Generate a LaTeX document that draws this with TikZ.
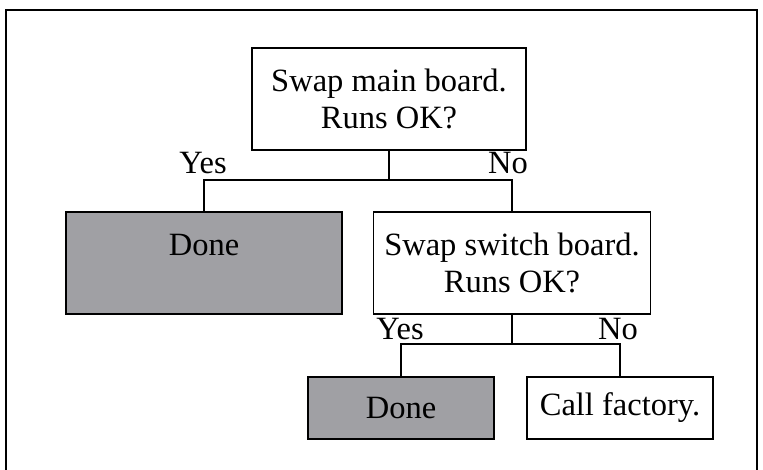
\documentclass[tikz,border=0pt]{standalone}
\usepackage{fontspec}
\setmainfont{Liberation Serif}
\usepackage{tikz}

\begin{document}
\begin{tikzpicture}[x=1pt,y=-1pt,
    box/.style={draw,line width=1.4pt,inner sep=0pt,align=center,
      font=\fontsize{32.5}{37}\selectfont},
    grey/.style={fill={rgb,255:red,160;green,160;blue,164}},
    lbl/.style={font=\fontsize{32.5}{37}\selectfont,inner sep=0pt},
    line/.style={line width=1.4pt}]
    \useasboundingbox (0,0) rectangle (763,470);
    \draw[line width=2.8pt] (6,480)--(6,10)--(757,10)--(757,480);
    \node[box,minimum width=274,minimum height=102] (q1) at (389,99){Swap main board.\\Runs OK?};
    \node[box,grey,minimum width=276,minimum height=102] (d1) at (204,263){Done\\\mbox{}};
    \node[box,minimum width=277,minimum height=102] (q2) at (512,263){Swap switch board.\\Runs OK?};
    \node[box,grey,minimum width=186,minimum height=62] (d2) at (401,408){Done};
    \node[box,minimum width=186,minimum height=62] (cf) at (620,408){Call factory.};
    \coordinate (j1) at (389,180);
    \coordinate (j2) at (512,344);
    \draw[line] (q1.south)--(j1) -| (d1.north);
    \draw[line] (j1) -| (q2.north);
    \draw[line] (q2.south)--(j2) -| (d2.north);
    \draw[line] (j2) -| (cf.north);
    \node[lbl] (y1) at (203,163){Yes};
    \node[lbl] (n1) at (508,163){No};
    \node[lbl] (y2) at (400,329){Yes};
    \node[lbl] (n2) at (618,329){No};
\end{tikzpicture}
\end{document}
